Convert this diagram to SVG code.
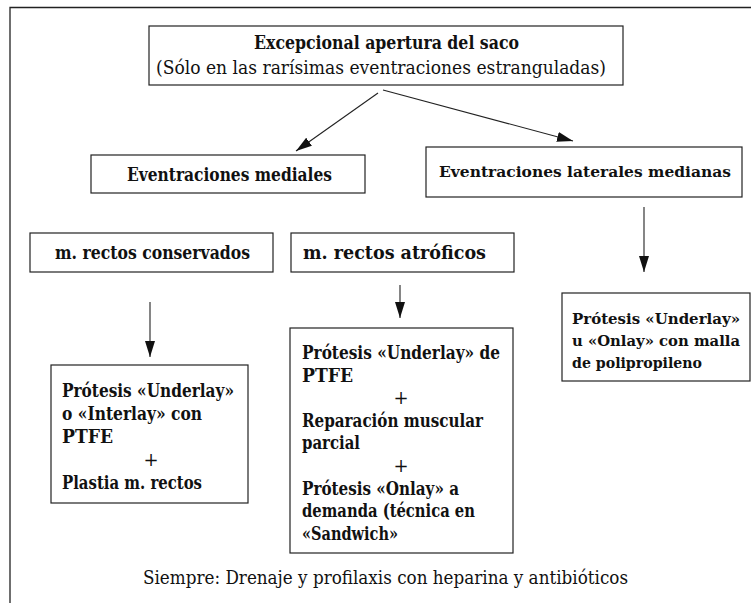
<svg xmlns="http://www.w3.org/2000/svg" width="751" height="603" viewBox="0 0 751 603">
<defs>
<style>
.frame{fill:none;stroke:#222;stroke-width:1.3}
.box{fill:#fff;stroke:#222;stroke-width:1.2}
.b{font-family:"DejaVu Serif","Liberation Serif",serif;font-weight:bold;font-size:18px;fill:#111}
.r{font-family:"DejaVu Serif","Liberation Serif",serif;font-size:18px;fill:#111}
.s{font-size:14.5px}
.conn{stroke:#222;stroke-width:1.1;fill:none;marker-end:url(#ah)}
</style>
<marker id="ah" markerUnits="userSpaceOnUse" markerWidth="18" markerHeight="12" refX="16" refY="5" orient="auto">
<path d="M0,0 L16,5 L0,10 Z" fill="#111"/>
</marker>
</defs>
<rect x="0" y="0" width="751" height="603" fill="#fff"/>
<path class="frame" d="M10,603 L10,7.5 L751,7.5"/>

<g id="n-top">
<rect class="box" x="149" y="26" width="474" height="59"/>
<text class="b" x="254" y="49" textLength="265" lengthAdjust="spacingAndGlyphs">Excepcional apertura del saco</text>
<text class="r" x="156" y="74" textLength="450" lengthAdjust="spacingAndGlyphs">(Sólo en las rarísimas eventraciones estranguladas)</text>
</g>

<g id="n-mediales">
<rect class="box" x="91" y="155" width="274" height="38"/>
<text class="b" x="127" y="181" textLength="205" lengthAdjust="spacingAndGlyphs">Eventraciones mediales</text>
</g>

<g id="n-laterales">
<rect class="box" x="426" y="147" width="316" height="50"/>
<text class="b s" x="439" y="177" textLength="292" lengthAdjust="spacingAndGlyphs">Eventraciones laterales medianas</text>
</g>

<g id="n-conservados">
<rect class="box" x="30" y="233" width="243" height="39"/>
<text class="b" x="55" y="259" textLength="195" lengthAdjust="spacingAndGlyphs">m. rectos conservados</text>
</g>

<g id="n-atroficos">
<rect class="box" x="291" y="233" width="223" height="39"/>
<text class="b" x="303" y="259" textLength="183" lengthAdjust="spacingAndGlyphs">m. rectos atróficos</text>
</g>

<g id="n-protesis-left">
<rect class="box" x="51" y="365" width="197" height="138"/>
<text class="b" x="62" y="397" textLength="172" lengthAdjust="spacingAndGlyphs">Prótesis «Underlay»</text>
<text class="b" x="62" y="420" textLength="140" lengthAdjust="spacingAndGlyphs">o «Interlay» con</text>
<text class="b" x="62" y="443" textLength="51" lengthAdjust="spacingAndGlyphs">PTFE</text>
<text class="r" x="151" y="466" text-anchor="middle">+</text>
<text class="b" x="62" y="489" textLength="140" lengthAdjust="spacingAndGlyphs">Plastia m. rectos</text>
</g>

<g id="n-protesis-mid">
<rect class="box" x="290" y="328" width="223" height="225"/>
<text class="b" x="302" y="359" textLength="198" lengthAdjust="spacingAndGlyphs">Prótesis «Underlay» de</text>
<text class="b" x="302" y="381.6" textLength="51" lengthAdjust="spacingAndGlyphs">PTFE</text>
<text class="r" x="401" y="404.2" text-anchor="middle">+</text>
<text class="b" x="302" y="426.8" textLength="181" lengthAdjust="spacingAndGlyphs">Reparación muscular</text>
<text class="b" x="302" y="449.4" textLength="58" lengthAdjust="spacingAndGlyphs">parcial</text>
<text class="r" x="401" y="472" text-anchor="middle">+</text>
<text class="b" x="302" y="494.6" textLength="157" lengthAdjust="spacingAndGlyphs">Prótesis «Onlay» a</text>
<text class="b" x="302" y="517.2" textLength="173" lengthAdjust="spacingAndGlyphs">demanda (técnica en</text>
<text class="b" x="302" y="539.8" textLength="96" lengthAdjust="spacingAndGlyphs">«Sandwich»</text>
</g>

<g id="n-protesis-right">
<rect class="box" x="562" y="293" width="188" height="88"/>
<text class="b s" x="572" y="324" textLength="168" lengthAdjust="spacingAndGlyphs">Prótesis «Underlay»</text>
<text class="b s" x="572" y="346" textLength="168" lengthAdjust="spacingAndGlyphs">u «Onlay» con malla</text>
<text class="b s" x="572" y="368" textLength="130" lengthAdjust="spacingAndGlyphs">de polipropileno</text>
</g>

<g id="n-footer">
<text class="r" x="143" y="584" textLength="485" lengthAdjust="spacingAndGlyphs">Siempre: Drenaje y profilaxis con heparina y antibióticos</text>
</g>

<g id="connectors">
<line class="conn" x1="378" y1="93" x2="296" y2="151"/>
<line class="conn" x1="383" y1="90" x2="573" y2="141"/>
<line class="conn" x1="150" y1="302" x2="150" y2="357"/>
<line class="conn" x1="400" y1="285" x2="400" y2="318"/>
<line class="conn" x1="644" y1="207" x2="644" y2="272"/>
</g>
</svg>
